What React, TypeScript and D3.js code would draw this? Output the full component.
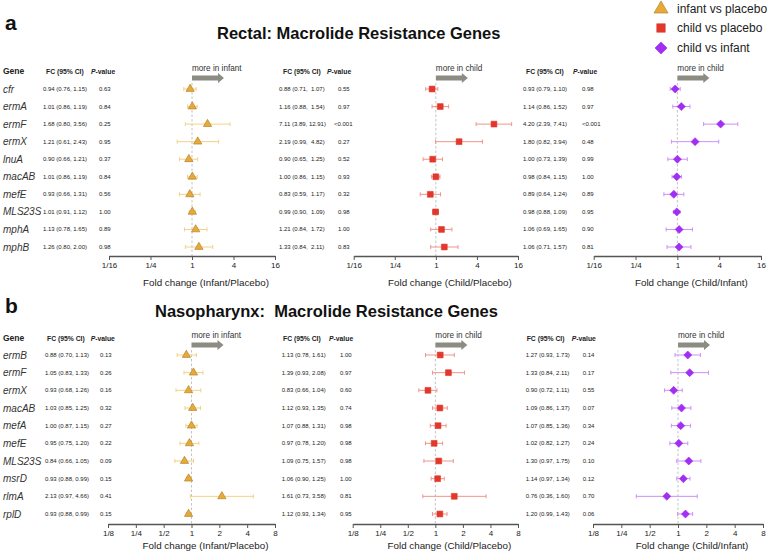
import React, { useEffect, useRef } from 'react';
import * as d3 from 'd3';

// fold change, lower 95% CI, upper 95% CI, P-value
type Row = [number, number, number, string];

const rectalGenes = ['cfr', 'ermA', 'ermF', 'ermX', 'lnuA', 'macAB', 'mefE', 'MLS23S', 'mphA', 'mphB'];

const rectalInfantVsPlacebo: Row[] = [
  [0.94, 0.76, 1.15, '0.63'],
  [1.01, 0.86, 1.19, '0.84'],
  [1.68, 0.80, 3.56, '0.25'],
  [1.21, 0.61, 2.43, '0.95'],
  [0.90, 0.66, 1.21, '0.37'],
  [1.01, 0.86, 1.19, '0.84'],
  [0.93, 0.66, 1.31, '0.56'],
  [1.01, 0.91, 1.12, '1.00'],
  [1.13, 0.78, 1.65, '0.89'],
  [1.26, 0.80, 2.00, '0.98'],
];

const rectalChildVsPlacebo: Row[] = [
  [0.88, 0.71, 1.07, '0.55'],
  [1.16, 0.88, 1.54, '0.97'],
  [7.11, 3.89, 12.91, '<0.001'],
  [2.19, 0.99, 4.82, '0.27'],
  [0.90, 0.65, 1.25, '0.52'],
  [1.00, 0.86, 1.15, '0.93'],
  [0.83, 0.59, 1.17, '0.32'],
  [0.99, 0.90, 1.09, '0.98'],
  [1.21, 0.84, 1.72, '1.00'],
  [1.33, 0.84, 2.11, '0.83'],
];

const rectalChildVsInfant: Row[] = [
  [0.93, 0.79, 1.10, '0.98'],
  [1.14, 0.86, 1.52, '0.97'],
  [4.20, 2.39, 7.41, '<0.001'],
  [1.80, 0.82, 3.94, '0.48'],
  [1.00, 0.73, 1.39, '0.99'],
  [0.98, 0.84, 1.15, '1.00'],
  [0.89, 0.64, 1.24, '0.89'],
  [0.98, 0.88, 1.09, '0.95'],
  [1.06, 0.69, 1.65, '0.90'],
  [1.06, 0.71, 1.57, '0.81'],
];

const nasoGenes = ['ermB', 'ermF', 'ermX', 'macAB', 'mefA', 'mefE', 'MLS23S', 'msrD', 'rlmA', 'rplD'];

const nasoInfantVsPlacebo: Row[] = [
  [0.88, 0.70, 1.13, '0.13'],
  [1.05, 0.83, 1.33, '0.26'],
  [0.93, 0.68, 1.26, '0.16'],
  [1.03, 0.85, 1.25, '0.32'],
  [1.00, 0.87, 1.15, '0.27'],
  [0.95, 0.75, 1.20, '0.22'],
  [0.84, 0.66, 1.05, '0.09'],
  [0.93, 0.88, 0.99, '0.15'],
  [2.13, 0.97, 4.66, '0.41'],
  [0.93, 0.88, 0.99, '0.15'],
];

const nasoChildVsPlacebo: Row[] = [
  [1.13, 0.78, 1.61, '1.00'],
  [1.39, 0.93, 2.08, '0.97'],
  [0.83, 0.66, 1.04, '0.60'],
  [1.12, 0.93, 1.35, '0.74'],
  [1.07, 0.88, 1.31, '0.98'],
  [0.97, 0.78, 1.20, '0.98'],
  [1.09, 0.75, 1.57, '0.98'],
  [1.06, 0.90, 1.25, '1.00'],
  [1.61, 0.73, 3.58, '0.81'],
  [1.12, 0.93, 1.34, '0.95'],
];

const nasoChildVsInfant: Row[] = [
  [1.27, 0.93, 1.73, '0.14'],
  [1.33, 0.84, 2.11, '0.17'],
  [0.90, 0.72, 1.11, '0.55'],
  [1.09, 0.86, 1.37, '0.07'],
  [1.07, 0.85, 1.36, '0.34'],
  [1.02, 0.82, 1.27, '0.24'],
  [1.30, 0.97, 1.75, '0.10'],
  [1.14, 0.97, 1.34, '0.12'],
  [0.76, 0.36, 1.60, '0.70'],
  [1.20, 0.99, 1.43, '0.06'],
];

const rectalTicks = [1 / 16, 1 / 4, 1, 4, 16];
const rectalTickLabels = ['1/16', '1/4', '1', '4', '16'];
const nasoTicks = [1 / 8, 1 / 4, 1 / 2, 1, 2, 4, 8];
const nasoTickLabels = ['1/8', '1/4', '1/2', '1', '2', '4', '8'];

const comparisonNames = ['infant vs placebo', 'child vs placebo', 'child vs infant'];
const axisTitles = ['Fold change (Infant/Placebo)', 'Fold change (Child/Placebo)', 'Fold change (Child/Infant)'];
const directionLabels = ['more in infant', 'more in child', 'more in child'];

const FONT = "'Liberation Sans', Arial, Helvetica, sans-serif";

const markers = [
  { shape: 'triangle', fill: '#E8A93A', stroke: '#A97B1C', bar: '#F2D283' },
  { shape: 'square', fill: '#E2372B', stroke: '#E2372B', bar: '#EE958B' },
  { shape: 'diamond', fill: '#A22DF3', stroke: '#A22DF3', bar: '#CB90F6' },
];

function markerPath(shape: string, big: boolean) {
  if (shape === 'triangle') return d3.symbol(d3.symbolTriangle, big ? 85 : 30)()!;
  if (shape === 'square') return d3.symbol(d3.symbolSquare, big ? 72 : 34)()!;
  return d3.symbol(d3.symbolSquare, big ? 72 : 32)()!;
}

function Marker({ i, x, y, big = false }: { i: number; x: number; y: number; big?: boolean }) {
  const m = markers[i];
  const rot = m.shape === 'diamond' ? ' rotate(45)' : '';
  return (
    <path
      d={markerPath(m.shape, big)}
      transform={`translate(${x},${y})${rot}`}
      fill={m.fill}
      stroke={m.stroke}
      strokeWidth={0.6}
    />
  );
}

function Axis({ scale, ticks, labels, y }: { scale: d3.ScaleLogarithmic<number, number>; ticks: number[]; labels: string[]; y: number }) {
  const ref = useRef<SVGGElement>(null);
  useEffect(() => {
    const g = d3.select(ref.current!);
    g.call(
      d3.axisBottom(scale)
        .tickValues(ticks)
        .tickFormat((_d, i) => labels[i])
        .tickSize(4)
        .tickSizeOuter(0)
        .tickPadding(2)
    );
    g.select('.domain').attr('stroke', '#555').attr('stroke-width', 1.6);
    g.selectAll('.tick line').attr('stroke', '#555').attr('stroke-width', 1);
    g.selectAll('.tick text').attr('fill', '#222').attr('font-size', 8).attr('font-family', FONT);
  }, [scale, ticks, labels]);
  return <g ref={ref} transform={`translate(0,${y})`} />;
}

const fmt = (v: number) => v.toFixed(2);

const sections = [
  {
    letter: 'a', letterY: 30,
    title: 'Rectal: Macrolide Resistance Genes', titleX: 217, titleY: 38.5,
    genes: rectalGenes,
    series: [rectalInfantVsPlacebo, rectalChildVsPlacebo, rectalChildVsInfant],
    ticks: rectalTicks, tickLabels: rectalTickLabels, domain: [1 / 16, 16],
    headerY: 71, rows: [89, 247], axisY: 256, axisTitleY: 286,
    ranges: [[109, 275], [353.7, 518], [593.7, 761]],
    fcX: [43, 279, 523], pX: [99, 338, 582],
    fcHeadX: [46, 283, 526], pHeadX: [91, 327, 573],
    padUpper: [false, true, false],
  },
  {
    letter: 'b', letterY: 313,
    title: 'Nasopharynx:  Macrolide Resistance Genes', titleX: 155, titleY: 317,
    genes: nasoGenes,
    series: [nasoInfantVsPlacebo, nasoChildVsPlacebo, nasoChildVsInfant],
    ticks: nasoTicks, tickLabels: nasoTickLabels, domain: [1 / 8, 8],
    headerY: 338, rows: [355, 514], axisY: 524, axisTitleY: 549,
    ranges: [[108, 275], [352.7, 518], [593, 763]],
    fcX: [45, 281.7, 525.7], pX: [100, 340, 582.7],
    fcHeadX: [47, 283, 526.7], pHeadX: [90.7, 329, 571.7],
    padUpper: [false, false, false],
  },
];

function Section({ s }: { s: (typeof sections)[number] }) {
  const y = d3.scalePoint<string>().domain(s.genes).range(s.rows as [number, number]);
  return (
    <g>
      <text x={5} y={s.letterY} fontSize={21} fontWeight="bold" fill="#111">{s.letter}</text>
      <text x={s.titleX} y={s.titleY} fontSize={16.5} fontWeight="bold" fill="#111" style={{ whiteSpace: 'pre' }}>
        {s.title}
      </text>
      <text x={3} y={s.headerY + 3} fontSize={8.5} fontWeight="bold" fill="#222">Gene</text>
      {s.genes.map(g => (
        <text key={g} x={3} y={y(g)! + 3.5} fontSize={10} fontStyle="italic" fill="#333">{g}</text>
      ))}
      {s.series.map((rows, k) => {
        const x = d3.scaleLog().base(2).domain(s.domain).range(s.ranges[k]);
        const x1 = x(1);
        const m = markers[k];
        const ay = s.headerY + 7;
        return (
          <g key={k}>
            <text x={s.fcHeadX[k]} y={s.headerY + 2.5} fontSize={6.8} fontWeight="bold" fill="#222">FC (95% CI)</text>
            <text x={s.pHeadX[k]} y={s.headerY + 2.5} fontSize={6.8} fontWeight="bold" fill="#222">
              <tspan fontStyle="italic">P</tspan>-value
            </text>
            <text x={x1} y={s.headerY} fontSize={8.2} fill="#333">{directionLabels[k]}</text>
            <path
              d={`M${x1},${ay - 2.5}H${x1 + 26}V${ay - 5}L${x1 + 32},${ay}L${x1 + 26},${ay + 5}V${ay + 2.5}H${x1}Z`}
              fill="#8C8C82"
            />
            <line x1={x1} x2={x1} y1={ay + 5} y2={s.axisY} stroke="#B5B5B5" strokeWidth={0.8} strokeDasharray="2.5,2" />
            {rows.map(([fc, lo, hi, p], i) => {
              const yy = y(s.genes[i])!;
              const upper = s.padUpper[k] ? fmt(hi).padStart(5, ' ') : fmt(hi);
              return (
                <g key={i}>
                  <text x={s.fcX[k]} y={yy + 2} fontSize={6} fill="#222" style={{ whiteSpace: 'pre' }}>
                    {`${fmt(fc)} (${fmt(lo)}, ${upper})`}
                  </text>
                  <text x={s.pX[k] - (p.startsWith('<') && k === 1 ? 4 : 0)} y={yy + 2} fontSize={6} fill="#222">{p}</text>
                  <line x1={x(lo)} x2={x(hi)} y1={yy} y2={yy} stroke={m.bar} strokeWidth={1} />
                  <line x1={x(lo)} x2={x(lo)} y1={yy - 2} y2={yy + 2} stroke={m.bar} strokeWidth={1} />
                  <line x1={x(hi)} x2={x(hi)} y1={yy - 2} y2={yy + 2} stroke={m.bar} strokeWidth={1} />
                  <Marker i={k} x={x(fc)} y={yy} />
                </g>
              );
            })}
            <Axis scale={x} ticks={s.ticks} labels={s.tickLabels} y={s.axisY} />
            <text x={x1 + 14} y={s.axisTitleY} fontSize={9.8} fill="#222" textAnchor="middle">{axisTitles[k]}</text>
          </g>
        );
      })}
    </g>
  );
}

export default function App() {
  const legendY = [9, 28, 48];
  return (
    <svg
      width={768}
      height={553}
      style={{ position: 'absolute', left: 0, top: 0, background: '#fff' }}
      fontFamily={FONT}
    >
      <rect width={768} height={553} fill="#fff" />
      {sections.map(s => (
        <Section key={s.letter} s={s} />
      ))}
      {comparisonNames.map((name, i) => (
        <g key={name}>
          <Marker i={i} x={661} y={legendY[i]} big />
          <text x={677} y={legendY[i] + 4.2} fontSize={12} fill="#222">{name}</text>
        </g>
      ))}
    </svg>
  );
}
